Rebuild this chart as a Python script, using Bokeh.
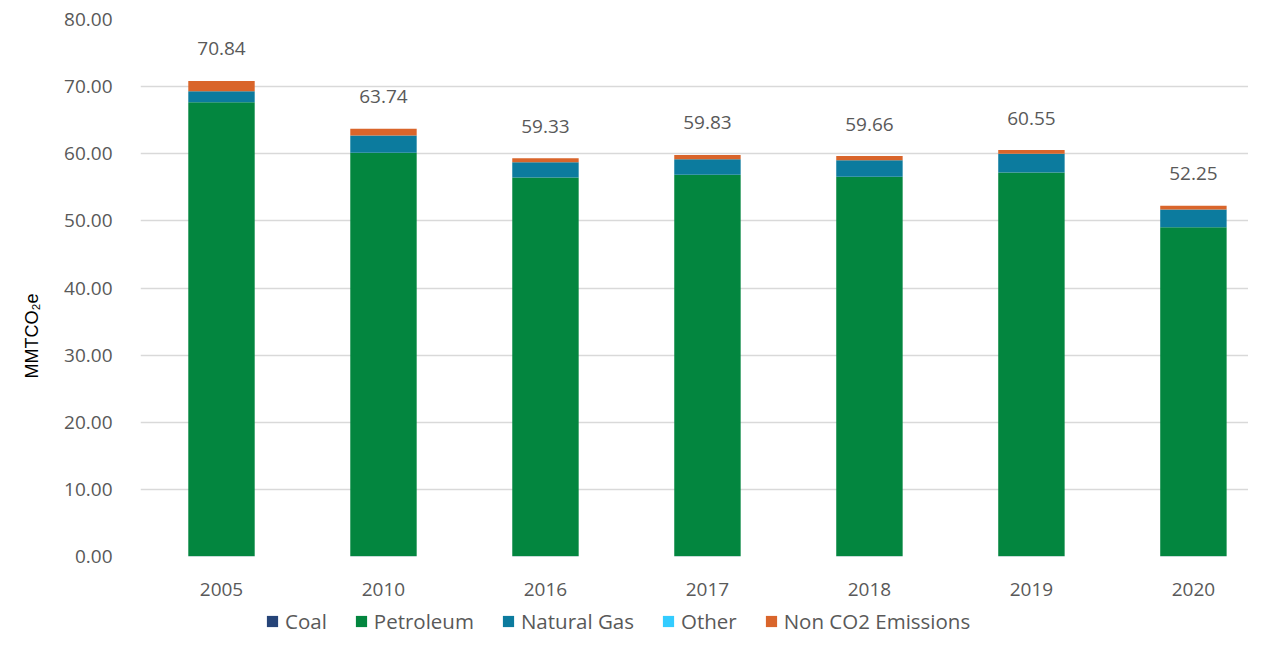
from bokeh.plotting import figure
from bokeh.layouts import column
from bokeh.models import ColumnDataSource, Range1d, FixedTicker, Legend, LegendItem, NumeralTickFormatter, Title
from bokeh.embed import file_html
from bokeh.resources import INLINE
from bokeh.core.properties import value

years = ["2005", "2010", "2016", "2017", "2018", "2019", "2020"]
coal = [0.02, 0.02, 0.02, 0.02, 0.02, 0.02, 0.02]
petroleum = [67.66, 60.12, 56.45, 56.84, 56.55, 57.19, 49.04]
natural_gas = [1.64, 2.58, 2.28, 2.32, 2.47, 2.78, 2.63]
other = [0.0, 0.0, 0.0, 0.0, 0.0, 0.0, 0.0]
non_co2 = [1.52, 1.02, 0.58, 0.65, 0.62, 0.56, 0.56]
totals = ["70.84", "63.74", "59.33", "59.83", "59.66", "60.55", "52.25"]

series = ["coal", "petroleum", "natural_gas", "other", "non_co2"]
names = ["Coal", "Petroleum", "Natural Gas", "Other", "Non CO2 Emissions"]
colors = ["#264478", "#03863F", "#0C7B9E", "#33CCFF", "#D9652B"]

xs = list(range(len(years)))
tot_vals = [c + p + g + o + n for c, p, g, o, n in zip(coal, petroleum, natural_gas, other, non_co2)]
src = ColumnDataSource(dict(x=xs, coal=coal, petroleum=petroleum, natural_gas=natural_gas,
                            other=other, non_co2=non_co2, total=tot_vals, label=totals))

FONT = "Open Sans"
GREY = "#595959"

p = figure(width=1248, height=603, output_backend="svg", toolbar_location=None,
           x_range=Range1d(-0.5, 6.34), y_range=Range1d(0, 80),
           min_border_left=140, min_border_right=0, min_border_top=19, min_border_bottom=47)
p.outline_line_color = None
p.background_fill_color = "white"
p.border_fill_color = "white"

rs = p.vbar_stack(series, x="x", width=0.41, source=src, color=colors, line_color=None)

p.text(x="x", y="total", text="label", source=src, text_align="center", text_baseline="middle",
       y_offset=-32, text_font=value(FONT), text_font_size="19px", text_color=GREY)

# axes
p.xaxis.ticker = FixedTicker(ticks=xs)
p.xaxis.major_label_overrides = {i: y for i, y in zip(xs, years)}
p.xaxis.axis_line_color = None
p.xaxis.major_tick_line_color = None
p.xaxis.minor_tick_line_color = None
p.xaxis.major_label_standoff = 20
p.xaxis.major_label_text_font = FONT
p.xaxis.major_label_text_font_size = "19px"
p.xaxis.major_label_text_color = GREY

p.yaxis.ticker = FixedTicker(ticks=[0, 10, 20, 30, 40, 50, 60, 70, 80])
p.yaxis.formatter = NumeralTickFormatter(format="0.00")
p.yaxis.axis_line_color = None
p.yaxis.major_tick_line_color = None
p.yaxis.minor_tick_line_color = None
p.yaxis.major_label_standoff = 22
p.yaxis.major_label_text_font = FONT
p.yaxis.major_label_text_font_size = "19px"
p.yaxis.major_label_text_color = GREY

ytitle = Title(text="MMTCO₂e", align="left", offset=178, standoff=35, vertical_align="top",
               text_font="Liberation Sans", text_font_style="normal",
               text_font_size="18px", text_color="#000000")
p.add_layout(ytitle, "left")

p.xgrid.grid_line_color = None
p.ygrid.grid_line_color = "#D9D9D9"
p.ygrid.grid_line_width = 1.5

# legend in its own strip below the chart
lf = figure(width=1248, height=32, output_backend="svg", toolbar_location=None,
            x_axis_type=None, y_axis_type=None, x_range=Range1d(0, 1), y_range=Range1d(0, 1),
            min_border_left=0, min_border_right=0, min_border_top=0, min_border_bottom=0)
lf.outline_line_color = None
lf.xgrid.grid_line_color = None
lf.ygrid.grid_line_color = None
dummy = ColumnDataSource(dict(x=[-10], top=[0]))
lrs = [lf.vbar(x="x", top="top", width=0.1, source=dummy, color=c, line_color=None) for c in colors]
items = [LegendItem(label=n, renderers=[r]) for n, r in zip(names, lrs)]
legend = Legend(items=items, orientation="horizontal", location=(125, 0),
                padding=0, margin=0, spacing=27, label_standoff=6,
                glyph_width=14, glyph_height=14, label_height=20,
                label_text_font=FONT, label_text_font_size="20.5px", label_text_color=GREY,
                background_fill_alpha=0, border_line_color=None)
lf.add_layout(legend, "center")

layout = column(p, lf, spacing=0)
open("out.html", "w").write(file_html(layout, INLINE))
